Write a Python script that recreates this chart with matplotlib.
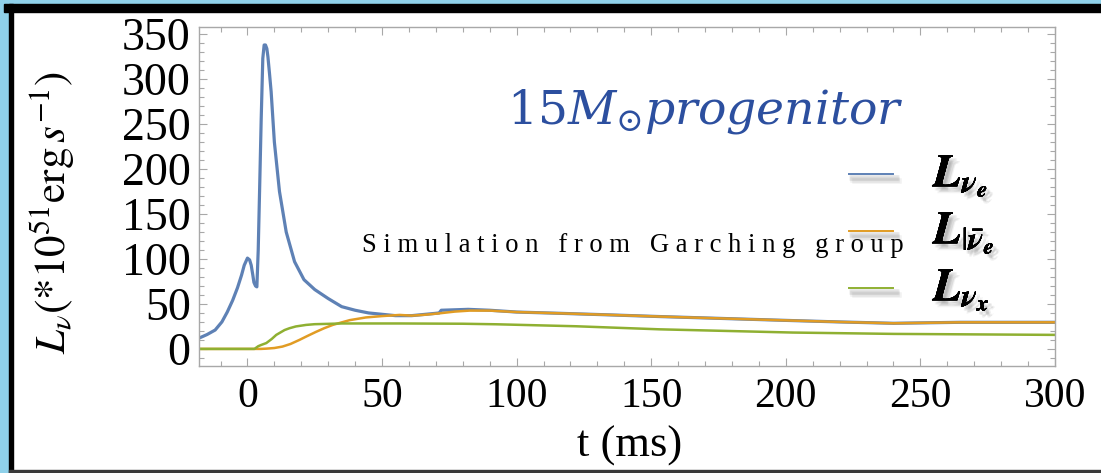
import matplotlib
matplotlib.use("Agg")
import matplotlib.pyplot as plt
import matplotlib.patheffects as pe
from matplotlib.patches import Rectangle
from matplotlib.ticker import MultipleLocator

plt.rcParams["mathtext.fontset"] = "stix"

# Neutrino luminosities (10^51 erg/s) versus post-bounce time (ms)
t_nue = [-18, -15, -12, -9.5, -7.5, -5.5, -3.7, -2.2, -1.2, 0, 0.8, 1.4, 2.0, 2.4, 3.0, 3.5,
         4.0, 4.5, 5.1, 5.7, 6.2, 6.7, 7.2, 7.6, 8.2, 8.8, 10, 11.9, 14.4, 17.5, 21, 25, 30,
         35, 40, 45, 55, 61, 70, 71.2, 72, 82, 90, 100, 116, 135, 153, 175, 202.6, 220, 240,
         265, 300]
L_nue = [12, 16, 21, 30, 41, 54, 68, 82, 93, 101, 99, 93, 82, 74, 70, 69,
         110, 175, 255, 323, 338, 338, 334, 325, 306, 286, 230, 175, 130, 97, 77, 66, 56,
         47, 43, 40, 37, 37, 39.6, 40, 43, 44, 43, 41, 39.6, 37.8, 36, 34, 31.5, 30, 28.5,
         29.6, 29.6]

t_nueb = [-18, 5, 7, 10, 13, 16, 19.3, 22, 25.5, 28.5, 31.7, 35, 38, 44, 50, 56.5, 61, 66,
          71.4, 77, 82.5, 90, 100, 116, 135, 153, 175, 202.6, 220, 240, 265, 300]
L_nueb = [0, 0, 0.3, 1, 2.6, 5.5, 10, 14, 19, 23, 26.7, 29.5, 32, 35, 36.5, 37.8, 37, 38,
          39.6, 41.5, 42.6, 42.6, 41, 39.6, 37.8, 36, 34, 31.5, 30, 28.5, 29.6, 29.6]

t_nux = [-18, 2.6, 4, 5.1, 7, 9, 10.7, 13.8, 15.6, 18, 21.8, 25, 29, 35, 56.5, 80, 92.4,
         122, 153, 202.6, 240, 300]
L_nux = [0, 0, 3, 4.4, 6.5, 11, 15.6, 21, 23, 25, 26.7, 27.5, 27.8, 28.3, 28.3, 28, 27.4,
         25.2, 21.8, 18.2, 16.7, 15.6]

x_ticks = [0, 50, 100, 150, 200, 250, 300]
y_ticks = [0, 50, 100, 150, 200, 250, 300, 350]

c_blue = "#5e81b5"
c_orange = "#e19c24"
c_green = "#8fb032"
frame = "#a8a8a8"

W, H = 1101, 473
fig = plt.figure(figsize=(W / 100, H / 100), dpi=100)
fig.patch.set_facecolor("white")

# border decoration
def px_rect(x0, y0, x1, y1, color):
    fig.patches.append(Rectangle((x0 / W, 1 - y1 / H), (x1 - x0) / W, (y1 - y0) / H,
                                 transform=fig.transFigure, color=color, zorder=-10))

light = "#8fd1ea"
px_rect(0, 0, W, 4, light)
px_rect(0, 0, 9, H, light)
px_rect(4, 4, W, 12, "black")
px_rect(9, 4, 13, H, "black")
px_rect(9, 470, W, 473, "#3a3a3a")

left, right, top, bottom = 199, 1055, 27, 366
ax = fig.add_axes([left / W, 1 - bottom / H, (right - left) / W, (bottom - top) / H])
ax.set_xlim(-18, 300)
ax.set_ylim(-19, 358)

ax.plot(t_nue, L_nue, color=c_blue, lw=2.3, solid_joinstyle="round")
ax.plot(t_nueb, L_nueb, color=c_orange, lw=1.8)
ax.plot(t_nux, L_nux, color=c_green, lw=1.8)

for s in ax.spines.values():
    s.set_color(frame)
    s.set_linewidth(1.0)

ax.set_xticks(x_ticks)
ax.set_yticks(y_ticks)
ax.xaxis.set_minor_locator(MultipleLocator(10))
ax.yaxis.set_minor_locator(MultipleLocator(10))
ax.tick_params(which="both", direction="in", top=True, right=True, color=frame, width=0.8)
ax.tick_params(which="major", length=6)
ax.tick_params(which="minor", length=3.5)

serif = "Liberation Serif"
ax.set_xticklabels([str(v) for v in x_ticks], fontfamily=serif, fontsize=30)
ax.set_yticklabels([str(v) for v in y_ticks], fontfamily=serif, fontsize=33)
ax.tick_params(axis="x", pad=8)
ax.tick_params(axis="y", pad=6)

fig.text(630 / W, 1 - 446 / H, "t (ms)", fontfamily=serif, fontsize=32,
         ha="center", va="center")

fig.text(52 / W, 1 - 212 / H, r"$L_{\nu}(*10^{51}\mathrm{erg}\,s^{-1})$",
         fontsize=31, rotation=90, ha="center", va="center")

fig.text(507 / W, 1 - 112 / H, r"$15M_{\odot}\mathit{progenitor}$",
         math_fontfamily="dejavuserif", fontsize=34, color="#2c4f9f",
         ha="left", va="center")

sim = "   ".join(" ".join(w) for w in "Simulation from Garching group".split())
fig.text(362 / W, 1 - 245 / H, sim, fontfamily=serif, fontsize=19.2,
         ha="left", va="center")

# legend with soft drop shadows
shadow_txt = [pe.withSimplePatchShadow(offset=(dx, -dy), shadow_rgbFace="#555555", alpha=0.07)
              for dx, dy in [(2, 2), (3, 3), (4, 4), (3, 2), (2, 3), (5, 4), (4, 5)]]
shadow_line = [pe.SimpleLineShadow(offset=(dx, -dy), shadow_color="#555555", alpha=0.08, linewidth=4)
               for dx, dy in [(2, 3), (3, 4), (4, 5), (3, 3)]] + [pe.Normal()]

labels = [r"$\boldsymbol{L}_{\boldsymbol{\nu}_{\boldsymbol{e}}}$",
          r"$\boldsymbol{L}_{|\bar{\boldsymbol{\nu}}_{\boldsymbol{e}}}$",
          r"$\boldsymbol{L}_{\boldsymbol{\nu}_{\boldsymbol{x}}}$"]
colors = [c_blue, c_orange, c_green]
ys = [174, 231, 288]
for lab, col, yy in zip(labels, colors, ys):
    fig.lines.append(plt.Line2D([849 / W, 893 / W], [1 - yy / H, 1 - yy / H],
                                transform=fig.transFigure, color=col, lw=1.4,
                                path_effects=shadow_line))
    fig.text(933 / W, 1 - (yy + 2) / H, lab, fontsize=33,
             ha="left", va="center", path_effects=shadow_txt + [pe.Normal()])

fig.savefig("out.png", dpi=100)
